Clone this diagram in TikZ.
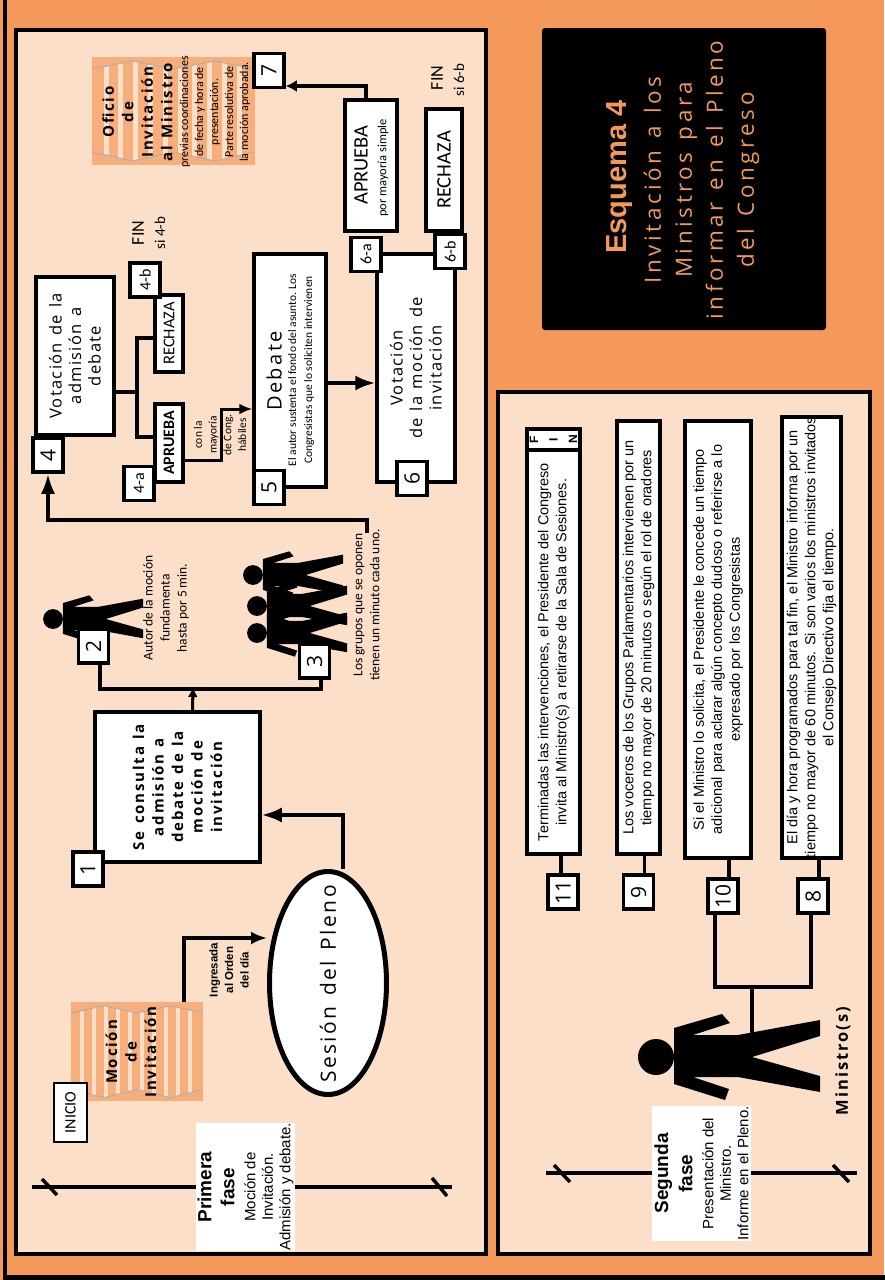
\documentclass[tikz,border=0pt]{standalone}
\usepackage{fontspec}
\setmainfont{Liberation Sans}
\newfontfamily\titular[LetterSpace=16,WordSpace=1.3]{Open Sans}
\newfontfamily\ancha[LetterSpace=12,WordSpace=1.3]{Open Sans}
\newfontfamily\media[LetterSpace=8,WordSpace=1.3]{Open Sans}
\newfontfamily\cifra{Open Sans}
\newfontfamily\angosta{Carlito}
\usetikzlibrary{shapes.geometric,arrows.meta}
\newcommand{\tam}[2]{\fontsize{#1}{#2}\selectfont}
\definecolor{naranja}{HTML}{F4995A}
\definecolor{crema}{HTML}{FBDFC8}
\definecolor{papel}{HTML}{F7AE7A}
\definecolor{gris}{HTML}{B0AFAF}
\tikzset{
persona/.pic={
	\fill (0,0) circle (18);
	\fill (18,-29)--(66,-43)--(74,-34)--(37,-22)--(82,-22)--(164,-37)--(164,-21)--(96,0)--(164,19)--(164,35)--(82,20)--(37,20)--(73,32)--(69,43)--(18,27)--cycle;
},
hoja/.pic={
	\fill[papel] (0,0) rectangle (163,108);
	\begin{scope}
	\clip (0,12)--(41,4)--(81,12)--(123,4)--(163,12)--(163,95)--(123,104)--(81,95)--(41,104)--(0,95)--cycle;
	\foreach \i in {0,...,9}
		\fill[crema] (11.5+14.8*\i,0) rectangle (16.5+14.8*\i,108);
	\end{scope}
	\draw[gris,line width=1] (0,12)--(41,4)--(81,12)--(123,4)--(163,12);
	\draw[gris,line width=1] (0,95)--(41,104)--(81,95)--(123,104)--(163,95);
}
}
\begin{document}
\begin{tikzpicture}[
x=1pt,y=-1pt,
every node/.style={rotate=90,inner sep=0pt,align=center},
every pic/.style={rotate=-90}
]

\tikzstyle{c} = [draw, fill=white, shape=rectangle, line width=3.5pt]
\tikzstyle{n} = [draw, fill=white, shape=rectangle, line width=3.5pt, minimum width=34, minimum height=30, font=\cifra\tam{21}{24}]
\tikzstyle{nc} = [n, font=\angosta\tam{16}{18}]
\tikzstyle{lin} = [line width=3.5pt]
\tikzstyle{fl} = [line width=3.5pt, -{Latex[length=20pt,width=15pt]}]
\tikzstyle{fc} = [line width=3pt, -{Latex[length=13pt,width=11pt]}]
\tikzstyle{grande} = [font=\media\tam{16.5}{19.5}]
\tikzstyle{negra} = [font=\ancha\bfseries\tam{15}{19.5}]
\tikzstyle{nota} = [font=\angosta\tam{13.5}{17}]
\tikzstyle{marca} = [font=\tam{14.5}{18}]
\tikzstyle{fase} = [fill=white, font=\tam{15}{17.5}]

\useasboundingbox (0,0) rectangle (884,1280);
\fill[naranja] (0,0) rectangle (884,1280);
\draw[line width=4.5pt] (5,-5) -- (5,1277.5) -- (890,1277.5);

\draw[fill=crema,line width=3.5pt] (16,30) rectangle (486,1254);
\draw[fill=crema,line width=3.5pt] (498,392) rectangle (870,1254);
\node[fill=black,rounded corners=3pt,minimum width=302,minimum height=284] (titulo) at (684,179) {};
\node[text=naranja,font=\bfseries\tam{29}{33}] (esquema) at (620,177) {Esquema 4};
\node[text=naranja,font=\titular\tam{22.4}{31}] (subtitulo) at (701.5,180) {Invitación a los\\Ministros para\\informar en el Pleno\\del Congreso};

\pic at (92,57) {hoja};
\pic[xscale=.92,yscale=.81] at (71,1002) {hoja};

\node[negra] (oficio) at (137.5,112) {Oficio\\de\\Invitación\\al Ministro};
\node[font=\angosta\tam{12}{15}] (previas) at (215,112) {previas coordinaciones\\de fecha y hora de\\presentación.\\Parte resolutiva de\\la moción aprobada.};
\node[negra] (mocion) at (131,1052) {Moción\\de\\Invitación};

\node[draw,fill=white,line width=1.5pt,minimum width=59,minimum height=33,font=\angosta\tam{16}{18}] (inicio) at (70.5,1112.5) {INICIO};

\node[c,minimum width=150,minimum height=165,negra] (consulta) at (177.5,787) {Se consulta la\\admisión a\\debate de la\\moción de\\invitación};
\node[n] (n1) at (88,869) {1};
\node[draw,fill=white,shape=ellipse,line width=5pt,minimum width=223,minimum height=117] (sesion) at (328,983) {};
\node[font=\ancha\tam{21}{24}] (sesiont) at (328,984) {Sesión del Pleno};
\node[font=\bfseries\tam{11.5}{15.5}] (ingresada) at (229,970) {Ingresada\\al Orden\\del día};

\coordinate (mo) at (184,1002);
\draw[fl,-{Latex[length=16pt,width=13pt]}] (mo) |- ([yshift=45pt]sesion.north);
\draw[fl] ([xshift=15pt]sesion.east) |- ([yshift=-28pt]consulta.south);

\pic[scale=.55] at (53,619) {persona};
\pic[scale=.55] at (253,575) {persona};
\pic[scale=.55] at (257,606) {persona};
\pic[scale=.55] at (257,633) {persona};
\node[n] (n2) at (93.5,646) {2};
\node[n] (n3) at (314.5,661) {3};
\node[nota] (autor) at (166,608) {Autor de la moción\\fundamenta\\hasta por 5 min.};
\node[nota] (grupos) at (366.5,605) {Los grupos que se oponen\\tienen un minuto cada uno.};

\coordinate (m) at (193,687);
\draw[lin] ([xshift=6.5pt]n2.west) -- ++(0,24) -| ([xshift=6.5pt]n3.west);
\draw[fc,-{Latex[length=10pt,width=10pt]}] ([xshift=15pt]consulta.east) -- (m);

\node[c,minimum width=158,minimum height=78,grande] (vot4) at (75,356) {Votación de la\\admisión a\\debate};
\node[n] (n4) at (48,455) {4};
\coordinate (g) at (367,533);
\draw[fl,-{Latex[length=20pt,width=14pt]}] (g) -- ++(0,-13) -| (n4.west);

\node[c,minimum width=77,minimum height=28,font=\angosta\tam{16.5}{20}] (rechaza4) at (169,333.5) {RECHAZA};
\node[c,minimum width=78,minimum height=28,font=\angosta\bfseries\tam{16}{18}] (aprueba4) at (169,443) {APRUEBA};
\node[nc] (n4a) at (139,483.5) {4-a};
\node[nc] (n4b) at (145,280) {4-b};
\node[font=\angosta\tam{18}{22}] (fin4) at (138,233) {FIN};
\node[font=\angosta\tam{15}{18}] (si4) at (160,233) {si 4-b};

\coordinate (tr) at (137,392);
\draw[lin] ([yshift=-36pt]vot4.south) -- (tr);
\draw[lin] (tr) |- ([yshift=-4.5pt]rechaza4.north);
\draw[lin] (tr) |- ([yshift=6pt]aprueba4.north);

\node[c,minimum width=233,minimum height=72] (debate) at (290,370.5) {};
\node[font=\ancha\tam{20}{24}] (debatet) at (274,371) {Debate};
\node[font=\angosta\tam{11.5}{16}] (debatec) at (301,370) {El autor sustenta el fondo del asunto. Los\\Congresistas que lo soliciten intervienen};
\node[n] (n5) at (269,487.5) {5};
\node[font=\angosta\tam{11.5}{14.8}] (mayoria) at (220,435) {con la\\mayoría\\de Cong.\\hábiles};
\draw[fc] ([yshift=-17pt]aprueba4.south) -- ++(37,0) |- ([yshift=-38.5pt]debate.north);

\node[c,minimum width=228,minimum height=78,grande] (vot6) at (416,368) {Votación\\de la moción de\\invitación};
\node[n] (n6) at (412,478.5) {6};
\draw[fl] ([yshift=-12.5pt]debate.south) -- ([yshift=-15pt]vot6.north);

\node[c,minimum width=131,minimum height=52] (aprueba6) at (371,165.5) {};
\node[font=\angosta\tam{20.5}{24}] (apruebat) at (361,165) {APRUEBA};
\node[font=\angosta\tam{12.5}{15}] (aprueban) at (383,168) {por mayoría simple};
\node[c,minimum width=122,minimum height=36,font=\angosta\tam{20.5}{24}] (rechaza6) at (444,170) {RECHAZA};
\node[nc] (n6a) at (366,254.5) {6-a};
\node[nc] (n6b) at (450,251.5) {6-b};
\node[font=\angosta\tam{18}{22}] (fin6) at (437,78) {FIN};
\node[font=\angosta\tam{15}{18}] (si6) at (459,80) {si 6-b};
\node[n] (n7) at (269,70.5) {7};
\draw[fl,-{Latex[length=11pt,width=12pt]}] ([xshift=-5pt]aprueba6.east) |- ([yshift=-15.5pt]n7.south);

\coordinate (p1) at (32,1187);
\coordinate (p2) at (452,1187);
\draw[lin] (p1) -- (p2);
\draw[lin] ([shift={(10,-8)}]p1) -- ([shift={(25,8)}]p1);
\draw[lin] ([shift={(-20,-9)}]p2) -- ([shift={(-5,9)}]p2);
\node[fase,minimum width=122,minimum height=99] (primera) at (245.5,1187) {\bfseries\tam{19}{23}Primera\\[5.5pt]\bfseries\tam{19}{23}fase\\[3.5pt]Moción de\\Invitación.\\Admisión y debate.};

\node[c,minimum width=404,minimum height=53,marca] (t11) at (553.5,652) {Terminadas las intervenciones, el Presidente del Congreso\\invita al Ministro(s) a retirarse de la Sala de Sesiones.};
\node[c,minimum width=21,minimum height=53,font=\bfseries\tam{12}{19.5}] (fin) at (553.5,439.5) {F\\I\\N};
\node[c,minimum width=433,minimum height=43,marca] (t9) at (638.5,637.5) {Los voceros de los Grupos Parlamentarios intervienen por un\\tiempo no mayor de 20 minutos o según el rol de oradores};
\node[c,minimum width=437,minimum height=66,marca] (t10) at (718,639.5) {Si el Ministro lo solicita, el Presidente le concede un tiempo\\adicional para aclarar algún concepto dudoso o referirse a lo\\expresado por los Congresistas};
\node[c,minimum width=441,minimum height=59,marca] (t8) at (811.5,637.5) {El día y hora programados para tal fin, el Ministro informa por un\\tiempo no mayor de 60 minutos. Si son varios los ministros invitados\\el Consejo Directivo fija el tiempo.};

\node[n] (n11) at (563,892) {11};
\node[n] (n9) at (638.5,892) {9};
\node[n] (n10) at (723,896) {10};
\node[n] (n8) at (813,896) {8};
\draw[lin] ([xshift=7.5pt]t11.west) -- ([xshift=-2pt]n11.east);
\draw[lin] ([xshift=6pt]t9.west) -- ([xshift=6pt]n9.east);
\draw[lin] ([xshift=11pt]t10.west) -- ([xshift=6pt]n10.east);
\draw[lin] ([xshift=7.5pt]t8.west) -- ([xshift=6pt]n8.east);

\pic at (656,1057) {persona};
\coordinate (mi) at (752,1033);
\coordinate (ra) at (752,987);
\draw[lin] (mi) -- (ra);
\draw[lin] ([xshift=-8pt]n10.west) |- (ra);
\draw[lin] ([xshift=-2pt]n8.west) |- (ra);
\node[font=\ancha\bfseries\tam{16.5}{18}] (ministro) at (843,1061) {Ministro(s)};

\coordinate (q1) at (546,1173);
\coordinate (q2) at (857,1173);
\draw[lin] (q1) -- (q2);
\draw[lin] ([shift={(8,-8)}]q1) -- ([shift={(24,9)}]q1);
\draw[lin] ([shift={(-24,-8)}]q2) -- ([shift={(-8,9)}]q2);
\node[fase,minimum width=129,minimum height=99] (segunda) at (701.5,1173.5) {\bfseries\tam{19}{23}Segunda\\[5.5pt]\bfseries\tam{19}{23}fase\\[3.5pt]Presentación del\\Ministro.\\Informe en el Pleno.};

\end{tikzpicture}
\end{document}
